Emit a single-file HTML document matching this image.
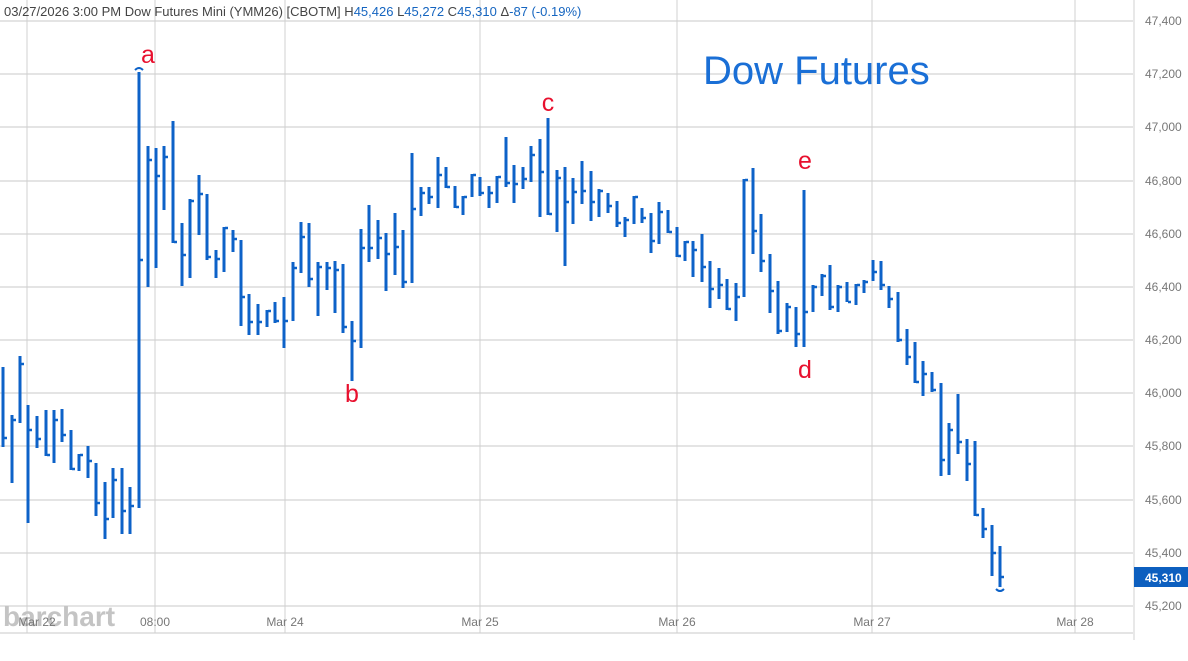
<!DOCTYPE html>
<html><head><meta charset="utf-8"><style>
html,body{margin:0;padding:0;background:#fff;}
svg{display:block;font-family:"Liberation Sans",sans-serif;}
</style></head><body>
<svg width="1188" height="661" viewBox="0 0 1188 661" xmlns="http://www.w3.org/2000/svg">
<g stroke="#dcdcdc" stroke-width="1.5">
<line x1="0" x2="1133" y1="21" y2="21"/><line x1="0" x2="1133" y1="74" y2="74"/><line x1="0" x2="1133" y1="127" y2="127"/><line x1="0" x2="1133" y1="181" y2="181"/><line x1="0" x2="1133" y1="234" y2="234"/><line x1="0" x2="1133" y1="287" y2="287"/><line x1="0" x2="1133" y1="340" y2="340"/><line x1="0" x2="1133" y1="393" y2="393"/><line x1="0" x2="1133" y1="446" y2="446"/><line x1="0" x2="1133" y1="500" y2="500"/><line x1="0" x2="1133" y1="553" y2="553"/><line x1="0" x2="1133" y1="606" y2="606"/>
<line x1="0" x2="1133" y1="633" y2="633"/>
</g>
<g stroke="#d0d0d0" stroke-width="1">
<line x1="27" x2="27" y1="0" y2="633"/><line x1="155" x2="155" y1="0" y2="633"/><line x1="285" x2="285" y1="0" y2="633"/><line x1="480" x2="480" y1="0" y2="633"/><line x1="677" x2="677" y1="0" y2="633"/><line x1="872" x2="872" y1="0" y2="633"/><line x1="1075" x2="1075" y1="0" y2="633"/>
<line x1="1134" x2="1134" y1="0" y2="640"/>
</g>
<text x="3" y="626" font-size="28" font-weight="bold" fill="#c4c4c4">barchart</text>
<g font-size="12" fill="#777" text-anchor="middle">
<text x="37" y="626">Mar 22</text><text x="155" y="626">08:00</text><text x="285" y="626">Mar 24</text><text x="480" y="626">Mar 25</text><text x="677" y="626">Mar 26</text><text x="872" y="626">Mar 27</text><text x="1075" y="626">Mar 28</text>
</g>
<g font-size="12" fill="#777">
<text x="1145" y="25">47,400</text><text x="1145" y="78">47,200</text><text x="1145" y="131">47,000</text><text x="1145" y="185">46,800</text><text x="1145" y="238">46,600</text><text x="1145" y="291">46,400</text><text x="1145" y="344">46,200</text><text x="1145" y="397">46,000</text><text x="1145" y="450">45,800</text><text x="1145" y="504">45,600</text><text x="1145" y="557">45,400</text><text x="1145" y="610">45,200</text>
</g>
<rect x="1134" y="567" width="54" height="20" fill="#0d5fbf"/>
<text x="1145" y="582" font-size="12" font-weight="bold" fill="#fff">45,310</text>
<text x="4" y="16" font-size="13" fill="#444">03/27/2026  3:00 PM  Dow Futures Mini (YMM26) [CBOTM]  <tspan>H</tspan><tspan fill="#1565c0">45,426</tspan> L<tspan fill="#1565c0">45,272</tspan> C<tspan fill="#1565c0">45,310</tspan> Δ<tspan fill="#1565c0">-87 (-0.19%)</tspan></text>
<text x="703" y="84" font-size="40" fill="#1a6fd6">Dow Futures</text>
<g font-size="25" fill="#e8102e" text-anchor="middle">
<text x="148" y="63">a</text><text x="352" y="402">b</text><text x="548" y="111">c</text><text x="805" y="378">d</text><text x="805" y="169">e</text>
</g>
<path fill="none" stroke="#0d62c8" stroke-width="3" d="M3 367V447M12 415V483M20 356V423M28 405V523M37 416V448M46 410V456M54 410V463M62 409V442M71 430V470M79 454V471M88 446V478M96 463V516M105 482V539M113 468V518M122 468V534M130 487V534M139 72V508M148 146V287M156 148V268M164 146V210M173 121V243M182 223V286M190 199V278M199 175V235M207 194V260M216 250V278M224 227V272M233 230V252M241 240V326M249 294V335M258 304V335M267 310V327M275 302V323M284 297V348M293 262V321M301 222V273M309 223V287M318 262V316M327 262V290M335 261V313M343 264V333M352 321V381M361 229V348M369 205V262M378 220V259M386 233V291M395 213V275M403 230V288M412 153V283M421 187V216M429 187V204M438 157V208M446 167V188M455 186V208M463 196V215M472 174V197M480 177V196M489 186V208M497 176V203M506 137V187M514 165V203M523 167V189M531 146V182M540 139V217M548 118V215M557 170V232M565 167V266M573 178V224M582 161V204M591 171V221M599 189V217M608 193V213M617 201V227M625 217V237M634 196V224M642 208V223M651 213V253M659 202V244M668 210V233M677 227V257M685 241V261M693 241V277M702 234V282M710 261V308M719 268V299M727 279V310M736 283V321M744 179V297M753 168V254M761 214V272M770 254V313M778 281V334M787 303V332M796 307V347M804 190V347M813 285V312M822 274V296M830 265V310M838 285V312M847 282V302M856 284V305M864 280V293M873 260V281M881 261V290M889 286V308M898 292V342M907 329V365M915 342V383M923 361V396M932 372V392M941 383V476M949 423V475M958 394V454M967 439V481M975 441V516M983 508V538M992 525V576M1000 546V587"/>
<path fill="none" stroke="#0d62c8" stroke-width="2.5" d="M4 438h3M13 420h3M21 364h3M29 430h3M38 439h3M47 455h3M55 420h3M63 435h3M72 469h3M80 455h3M89 461h3M97 503h3M106 519h3M114 480h3M123 511h3M131 506h3M140 260h3M149 160h3M157 176h3M165 157h3M174 242h3M183 255h3M191 201h3M200 194h3M208 257h3M217 259h3M225 228h3M234 239h3M242 297h3M250 322h3M259 322h3M268 311h3M276 321h3M285 321h3M294 268h3M302 237h3M310 279h3M319 267h3M328 268h3M336 270h3M344 327h3M353 341h3M362 248h3M370 248h3M379 238h3M387 254h3M396 247h3M404 282h3M413 209h3M422 193h3M430 197h3M439 175h3M447 187h3M456 207h3M464 197h3M473 175h3M481 193h3M490 193h3M498 177h3M507 183h3M515 184h3M524 179h3M532 155h3M541 172h3M549 214h3M558 178h3M566 202h3M574 192h3M583 191h3M592 202h3M600 191h3M609 206h3M618 223h3M626 220h3M635 197h3M643 218h3M652 241h3M660 212h3M669 232h3M678 256h3M686 242h3M694 250h3M703 267h3M711 289h3M720 285h3M728 309h3M737 297h3M745 180h3M754 231h3M762 261h3M771 291h3M779 331h3M788 307h3M797 334h3M805 312h3M814 287h3M823 276h3M831 307h3M839 287h3M848 302h3M857 285h3M865 282h3M874 272h3M882 285h3M890 299h3M899 340h3M908 357h3M916 382h3M924 374h3M933 390h3M942 460h3M950 430h3M959 442h3M968 464h3M976 515h3M984 529h3M993 553h3M1001 577h3"/>
<path fill="none" stroke="#0d62c8" stroke-width="2" d="M996 589q4 4 8 0M135 70q4 -4 8 0"/>
</svg>
</body></html>
